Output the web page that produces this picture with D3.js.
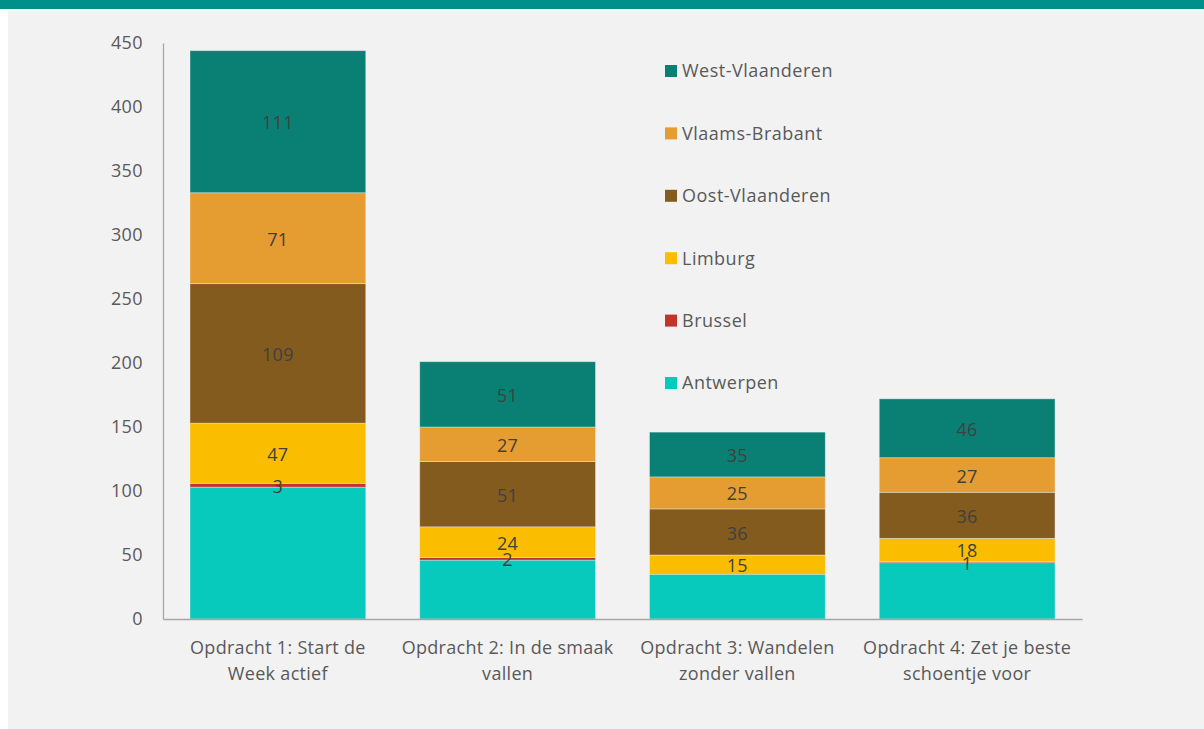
<!DOCTYPE html>
<html>
<head>
<meta charset="utf-8">
<script src="https://cdn.jsdelivr.net/npm/d3@7"></script>
<style>
  html, body { margin: 0; padding: 0; background: #ffffff; }
  svg { display: block; font-family: "Open Sans", "Noto Sans", sans-serif; }
</style>
</head>
<body>
<svg id="chart" width="1204" height="729"></svg>
<script>
// categories and series values
var categories = [
  ["Opdracht 1: Start de", "Week actief"],
  ["Opdracht 2: In de smaak", "vallen"],
  ["Opdracht 3: Wandelen", "zonder vallen"],
  ["Opdracht 4: Zet je beste", "schoentje voor"]
];
var seriesNames = ["Antwerpen", "Brussel", "Limburg", "Oost-Vlaanderen", "Vlaams-Brabant", "West-Vlaanderen"];
var antwerpen = [103, 46, 35, 44];
var brussel = [3, 2, 0, 1];
var limburg = [47, 24, 15, 18];
var oostVlaanderen = [109, 51, 36, 36];
var vlaamsBrabant = [71, 27, 25, 27];
var westVlaanderen = [111, 51, 35, 46];
var yTicks = [0, 50, 100, 150, 200, 250, 300, 350, 400, 450];
var colors = ["#08cabc", "#c0352b", "#fbbd00", "#835b1e", "#e59c30", "#0a8074"];

var values = [antwerpen, brussel, limburg, oostVlaanderen, vlaamsBrabant, westVlaanderen];
var rows = categories.map(function (c, i) {
  var r = { idx: i };
  seriesNames.forEach(function (s, j) { r[s] = values[j][i]; });
  return r;
});

var svg = d3.select("#chart");

// header band and panel
svg.append("rect").attr("x", 0).attr("y", 0).attr("width", 1204).attr("height", 9).attr("fill", "#00908a");
svg.append("rect").attr("x", 8).attr("y", 11).attr("width", 1196).attr("height", 718).attr("fill", "#f2f2f2");

var x = d3.scaleBand().domain(d3.range(categories.length)).range([163, 1082]).paddingInner(0.235).paddingOuter(0.1175);
var y = d3.scaleLinear().domain([0, 450]).range([619, 43]);

var stack = d3.stack().keys(seriesNames)(rows);

var layers = svg.append("g").selectAll("g")
  .data(stack).enter().append("g")
  .attr("fill", function (d, i) { return colors[i]; });

layers.selectAll("rect")
  .data(function (d) { return d; }).enter().append("rect")
  .attr("x", function (d) { return x(d.data.idx); })
  .attr("width", x.bandwidth())
  .attr("y", function (d) { return y(d[1]); })
  .attr("height", function (d) { return y(d[0]) - y(d[1]); })
  .attr("stroke", "#f2f2f2")
  .attr("stroke-opacity", 0.5)
  .attr("stroke-width", 0.8);

// data labels (no labels for Antwerpen or zero values)
stack.forEach(function (layer, i) {
  if (i === 0) return;
  svg.append("g").selectAll("text")
    .data(layer.filter(function (d) { return d[1] - d[0] > 0; })).enter().append("text")
    .attr("x", function (d) { return x(d.data.idx) + x.bandwidth() / 2; })
    .attr("y", function (d) { return (y(d[0]) + y(d[1])) / 2; })
    .attr("dy", "0.42em")
    .attr("text-anchor", "middle")
    .attr("font-size", 18)
    .attr("letter-spacing", 0.3)
    .attr("fill", "#404040")
    .text(function (d) { return d[1] - d[0]; });
});

// y axis
var yAxis = svg.append("g").attr("transform", "translate(163,0)")
  .call(d3.axisLeft(y).tickValues(yTicks).tickSize(0).tickPadding(20));
yAxis.select(".domain").attr("stroke", "#a6a6a6").attr("stroke-width", 1.3);
yAxis.selectAll("text").attr("font-size", 18).attr("letter-spacing", 0.4)
  .attr("fill", "#595959").attr("font-family", "Open Sans, sans-serif");

// x axis
var xAxis = svg.append("g").attr("transform", "translate(0,619)")
  .call(d3.axisBottom(x).tickSize(0).tickFormat(""));
xAxis.select(".domain").attr("stroke", "#a6a6a6").attr("stroke-width", 1.6);

var catText = svg.append("g").selectAll("text")
  .data(categories).enter().append("text")
  .attr("x", function (d, i) { return x(i) + x.bandwidth() / 2; })
  .attr("y", 654)
  .attr("text-anchor", "middle")
  .attr("font-size", 18)
  .attr("letter-spacing", 0.3)
  .attr("fill", "#595959");
catText.selectAll("tspan")
  .data(function (d) { return d; }).enter().append("tspan")
  .attr("x", function () { return d3.select(this.parentNode).attr("x"); })
  .attr("dy", function (d, i) { return i === 0 ? 0 : 26; })
  .text(function (d) { return d; });

// legend, top to bottom in reverse series order
var legendNames = seriesNames.slice().reverse();
var legend = svg.append("g").selectAll("g")
  .data(legendNames).enter().append("g")
  .attr("transform", function (d, i) { return "translate(665," + (71 + i * 62.4) + ")"; });
legend.append("rect")
  .attr("x", 0).attr("y", -6).attr("width", 12).attr("height", 12)
  .attr("fill", function (d) { return colors[seriesNames.indexOf(d)]; });
legend.append("text")
  .attr("x", 17).attr("dy", "0.36em")
  .attr("font-size", 18)
  .attr("letter-spacing", 0.5)
  .attr("fill", "#595959")
  .text(function (d) { return d; });
</script>
</body>
</html>
